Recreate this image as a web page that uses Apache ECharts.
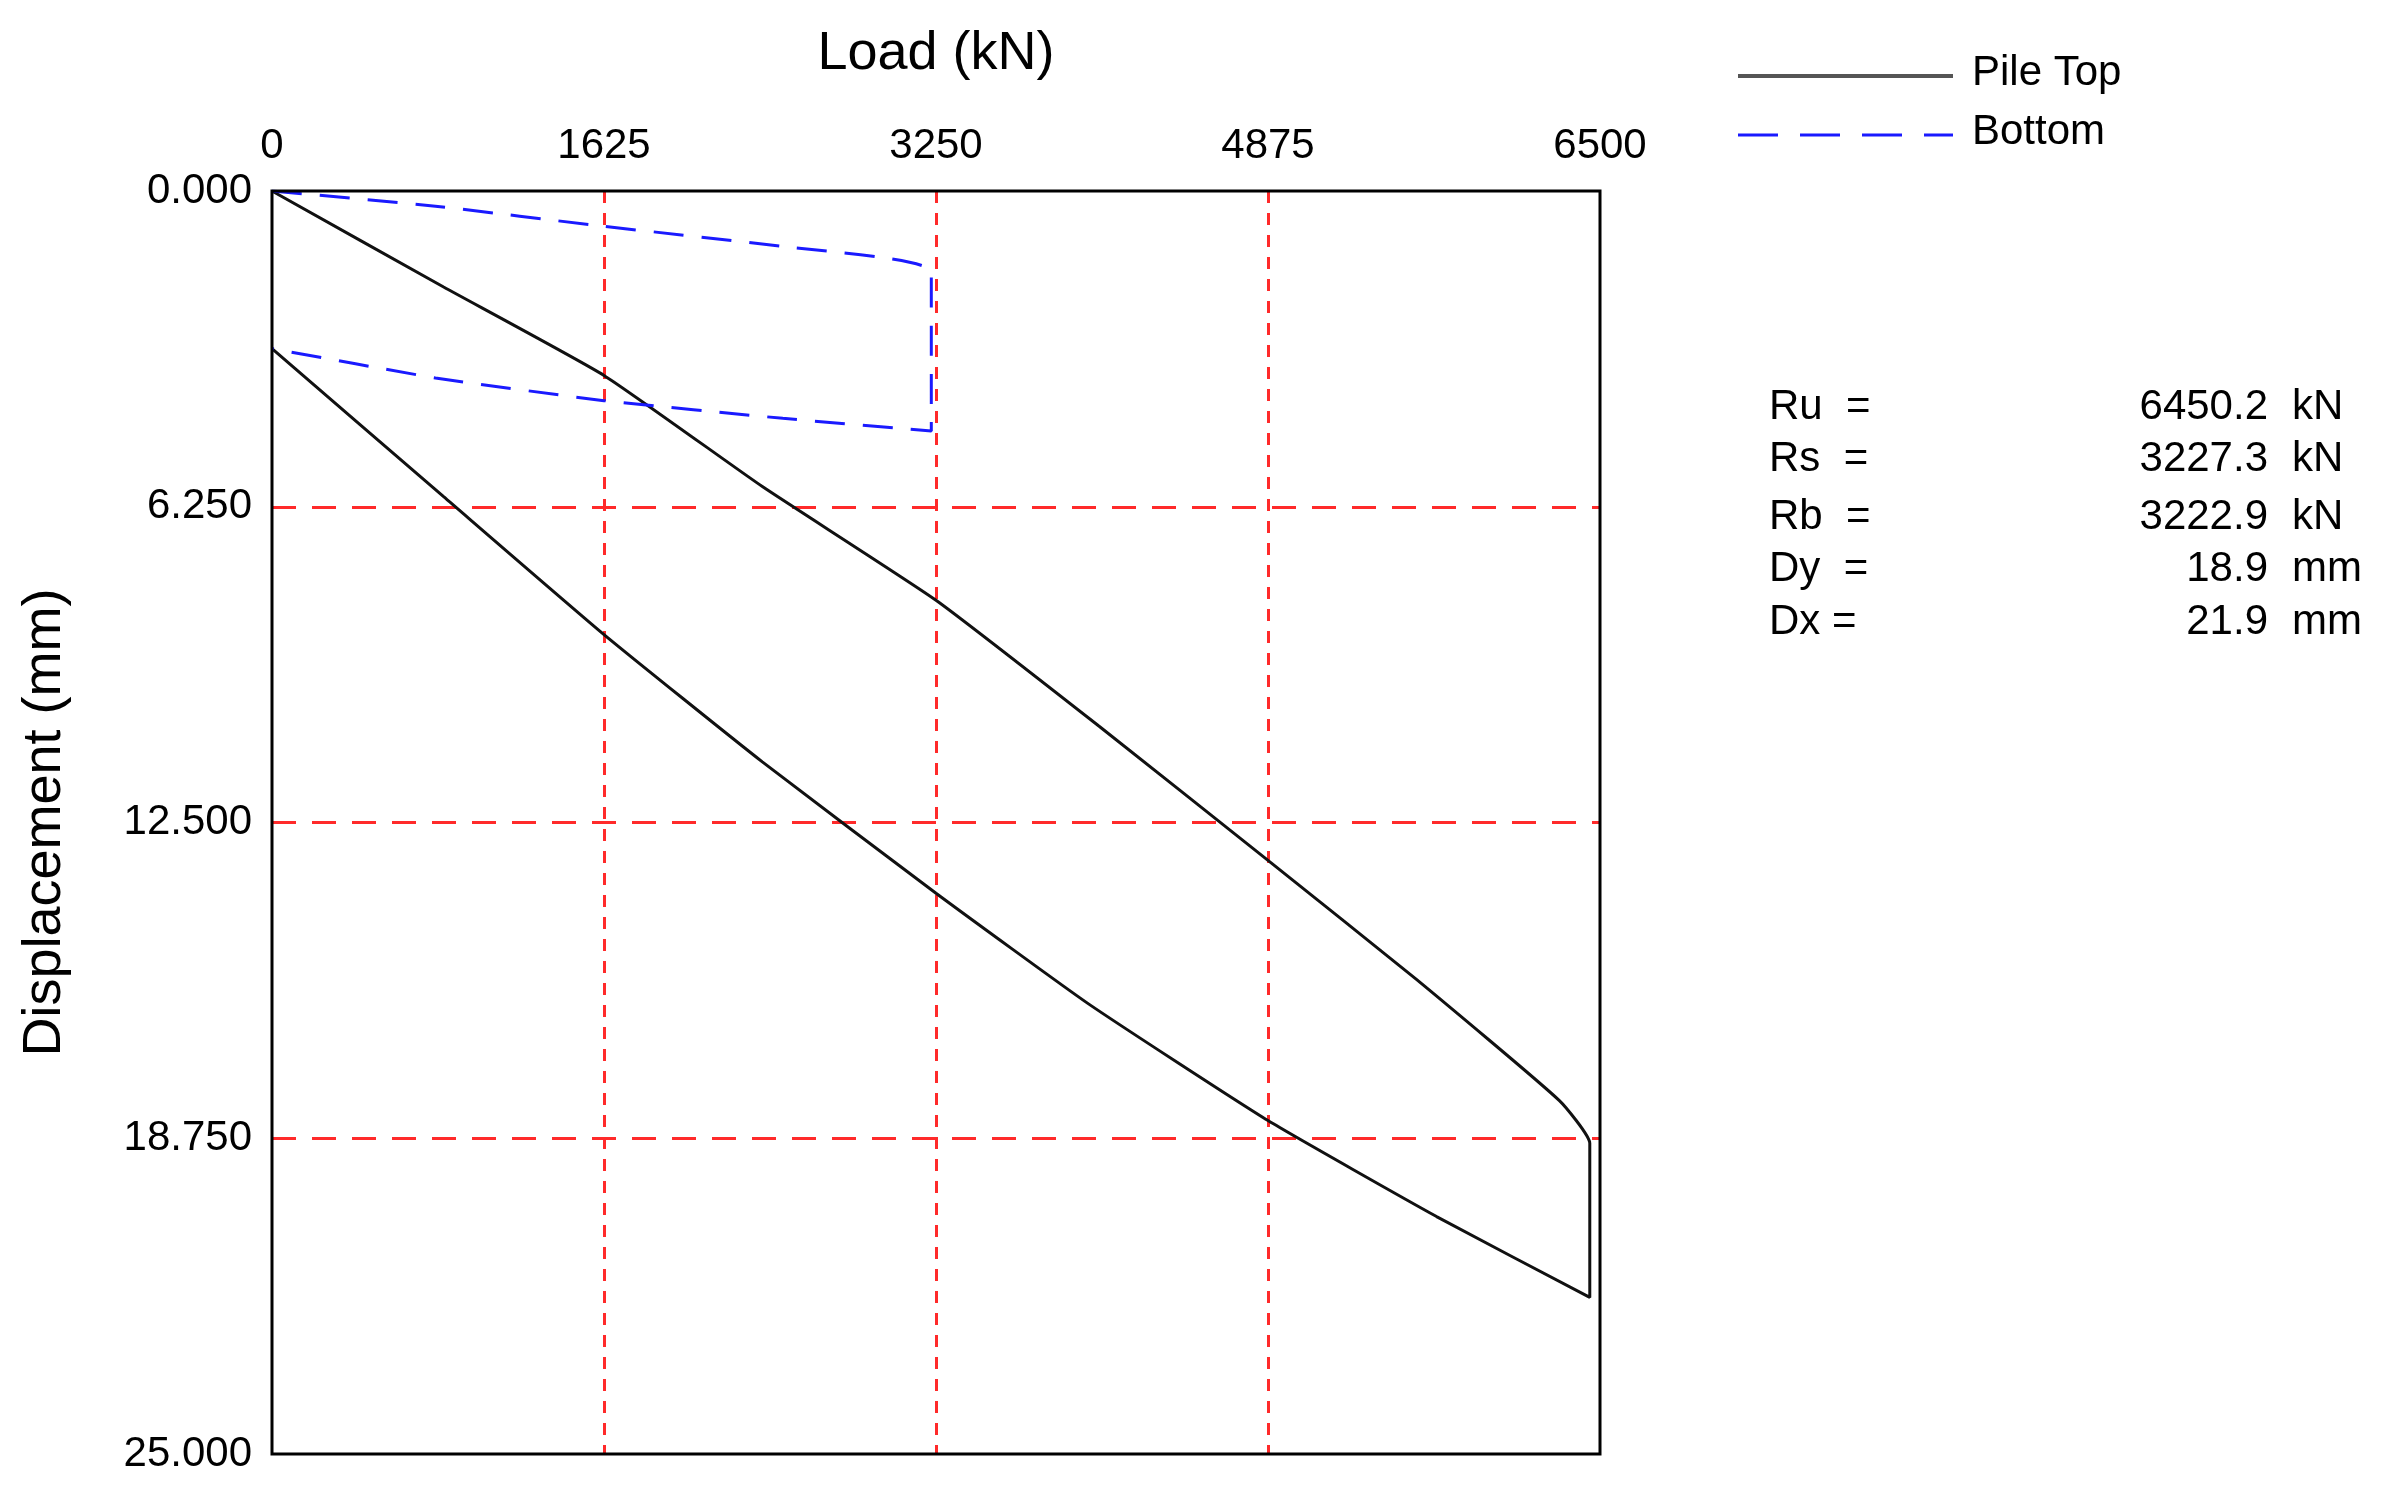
<!DOCTYPE html>
<html>
<head>
<meta charset="utf-8">
<script src="https://cdn.jsdelivr.net/npm/echarts@6/dist/echarts.min.js"></script>
<style>html,body{margin:0;padding:0;background:#fff}#chart{width:2385px;height:1501px}</style>
</head>
<body>
<div id="chart"></div>
<script>
// load (kN) vs displacement (mm)
var topLoad = [0, 840, 1625, 2400, 3250, 4050, 4875, 5600, 6300, 6450, 6450, 5700, 4875, 4000, 3250, 2400, 1625, 840, 0];
var topDisp = [0, 1.9, 3.65, 5.85, 8.1, 10.6, 13.25, 15.6, 18.0, 18.85, 21.9, 20.3, 18.4, 16.1, 13.9, 11.3, 8.78, 6.05, 3.12];
var botLoad = [0, 800, 1625, 2500, 3227, 3227, 2500, 1625, 800, 0];
var botDisp = [0, 0.3, 0.7, 1.1, 1.6, 4.75, 4.5, 4.15, 3.7, 3.12];
var resNames = ['Ru  =', 'Rs  =', 'Rb  =', 'Dy  =', 'Dx ='];
var resValues = ['6450.2', '3227.3', '3222.9', '18.9', '21.9'];
var resUnits = ['kN', 'kN', 'kN', 'mm', 'mm'];

function pairs(xs, ys) { return xs.map(function (x, i) { return [x, ys[i]]; }); }

var font = 'Liberation Sans';
var chart = echarts.init(document.getElementById('chart'));
var graphics = [];
var rowY = [410, 462, 520, 572, 625];
resNames.forEach(function (n, i) {
  graphics.push({ type: 'text', left: 1769, top: rowY[i] - 24, style: { text: n, font: '42px ' + font, fill: '#000' } });
  graphics.push({ type: 'text', right: 2385 - 2268, top: rowY[i] - 24, style: { text: resValues[i], font: '42px ' + font, fill: '#000' } });
  graphics.push({ type: 'text', left: 2292, top: rowY[i] - 24, style: { text: resUnits[i], font: '42px ' + font, fill: '#000' } });
});
// legend drawn by hand
graphics.push({ type: 'line', shape: { x1: 1738, y1: 76, x2: 1953, y2: 76 }, style: { stroke: '#555', lineWidth: 4 } });
graphics.push({ type: 'line', shape: { x1: 1738, y1: 135, x2: 1953, y2: 135 }, style: { stroke: '#1a1aff', lineWidth: 3, lineDash: [40, 22] } });
graphics.push({ type: 'text', left: 1972, top: 52, style: { text: 'Pile Top', font: '42px ' + font, fill: '#000' } });
graphics.push({ type: 'text', left: 1972, top: 111, style: { text: 'Bottom', font: '42px ' + font, fill: '#000' } });

chart.setOption({
  animation: false,
  textStyle: { fontFamily: font },
  grid: { left: 272, right: 2385 - 1600, top: 191, bottom: 1501 - 1454, show: true, borderColor: '#000', borderWidth: 3, z: 10 },
  xAxis: {
    type: 'value', position: 'top', min: 0, max: 6500, interval: 1625,
    name: 'Load (kN)', nameLocation: 'middle', nameGap: 110,
    nameTextStyle: { fontSize: 54, color: '#000' },
    axisLine: { show: false }, axisTick: { show: false },
    axisLabel: { fontSize: 42, color: '#000', margin: 24, formatter: function (v) { return String(v); } },
    splitLine: { showMinLine: false, showMaxLine: false, lineStyle: { color: '#ff2a2a', type: [12, 10], width: 3 } }
  },
  yAxis: {
    type: 'value', inverse: true, min: 0, max: 25, interval: 6.25,
    name: 'Displacement (mm)', nameLocation: 'middle', nameGap: 200,
    nameTextStyle: { fontSize: 54, color: '#000' },
    axisLine: { show: false }, axisTick: { show: false },
    axisLabel: { fontSize: 42, color: '#000', margin: 20, formatter: function (v) { return v.toFixed(3); } },
    splitLine: { showMinLine: false, showMaxLine: false, lineStyle: { color: '#ff2a2a', type: [24, 16], width: 3 } }
  },
  series: [
    { name: 'Pile Top', type: 'line', smooth: 0.15, showSymbol: false, data: pairs(topLoad, topDisp),
      lineStyle: { color: '#111', width: 3 } },
    { name: 'Bottom', type: 'line', smooth: 0.15, showSymbol: false, data: pairs(botLoad, botDisp),
      lineStyle: { color: '#1a1aff', width: 3, type: [30, 18] } }
  ],
  graphic: graphics
});
</script>
</body>
</html>
